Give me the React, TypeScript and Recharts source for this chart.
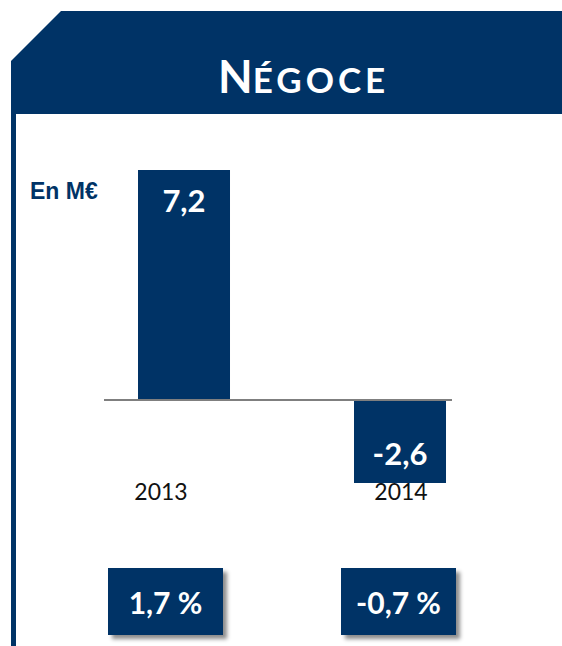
import React from 'react';
import { BarChart, Bar, XAxis, YAxis, ReferenceLine, LabelList } from 'recharts';

// ---- data ----
const years = [2013, 2014];
const values = [7.2, -2.6]; // En M€
const marginRates = [1.7, -0.7]; // %
const titleInitial = 'N';
const titleRest = 'ÉGOCE';
const unitLabel = 'En M€';

const data = years.map((year, i) => ({ year, value: values[i] }));

const NAVY = '#003366';
const fmt = (v: number) => v.toFixed(1).replace('.', ',');

const YearTick = (props: any) => {
  const { x, y, payload, index } = props;
  const shift = index === 0 ? -23 : 1;
  return (
    <text
      x={x + shift}
      y={y}
      dy={17}
      textAnchor="middle"
      fill="#111"
      fontFamily="Lato, sans-serif"
      fontSize={23}
    >
      {String(payload.value)}
    </text>
  );
};

const ValueLabel = (props: any) => {
  const { x, y, width, height, value } = props;
  const cx = x + width / 2;
  const top = Math.min(y, y + height);
  const bottom = Math.max(y, y + height);
  const ty = value >= 0 ? top + 42 : bottom - 18;
  return (
    <text
      x={cx}
      y={ty}
      textAnchor="middle"
      fill="#fff"
      fontFamily="Lato, sans-serif"
      fontWeight={700}
      fontSize={31}
    >
      {fmt(value)}
    </text>
  );
};

const boxLefts = [108, 341];

export default function App() {
  return (
    <div
      style={{
        position: 'absolute',
        left: 0,
        top: 0,
        width: 562,
        height: 646,
        overflow: 'hidden',
        background: '#fff',
      }}
    >
      <svg width={562} height={646} style={{ position: 'absolute', left: 0, top: 0 }}>
        <polygon
          points="61,11 562,11 562,114 16,114 16,646 11,646 11,61"
          fill={NAVY}
        />
        <text
          x={218}
          y={93}
          fill="#fff"
          fontFamily="Lato, sans-serif"
          fontWeight={700}
        >
          <tspan fontSize={45}>{titleInitial}</tspan>
          <tspan fontSize={35} letterSpacing={4}>{titleRest}</tspan>
        </text>
      </svg>

      <div
        style={{
          position: 'absolute',
          left: 30,
          top: 178,
          fontFamily: '"Liberation Sans", Arial, sans-serif',
          fontWeight: 700,
          fontSize: 23,
          color: NAVY,
          lineHeight: '26px',
        }}
      >
        {unitLabel}
      </div>

      <div style={{ position: 'absolute', left: 0, top: 0 }}>
        <BarChart
          width={562}
          height={646}
          data={data}
          margin={{ top: 170, right: 110, bottom: 133, left: 104 }}
        >
          <XAxis
            type="number"
            dataKey="year"
            domain={[2012.6296, 2014.2407]}
            allowDataOverflow
            ticks={years}
            interval={0}
            axisLine={false}
            tickLine={false}
            tickSize={0}
            tickMargin={0}
            height={30}
            tick={<YearTick />}
          />
          <YAxis hide domain={[-2.6, 7.2]} allowDataOverflow />
          <Bar dataKey="value" fill={NAVY} barSize={92} isAnimationActive={false}>
            <LabelList dataKey="value" content={<ValueLabel />} />
          </Bar>
          <ReferenceLine y={0} stroke="#7f7f7f" strokeWidth={2} ifOverflow="extendDomain" />
        </BarChart>
      </div>

      {marginRates.map((r, i) => (
        <div
          key={i}
          style={{
            position: 'absolute',
            left: boxLefts[i],
            top: 568,
            width: 115,
            height: 67,
            background: NAVY,
            boxShadow: '4px 4px 4px rgba(0,0,0,0.45)',
            color: '#fff',
            fontFamily: 'Lato, sans-serif',
            fontWeight: 700,
            fontSize: 30,
            display: 'flex',
            alignItems: 'center',
            justifyContent: 'center',
          }}
        >
          {fmt(r) + ' %'}
        </div>
      ))}
    </div>
  );
}
